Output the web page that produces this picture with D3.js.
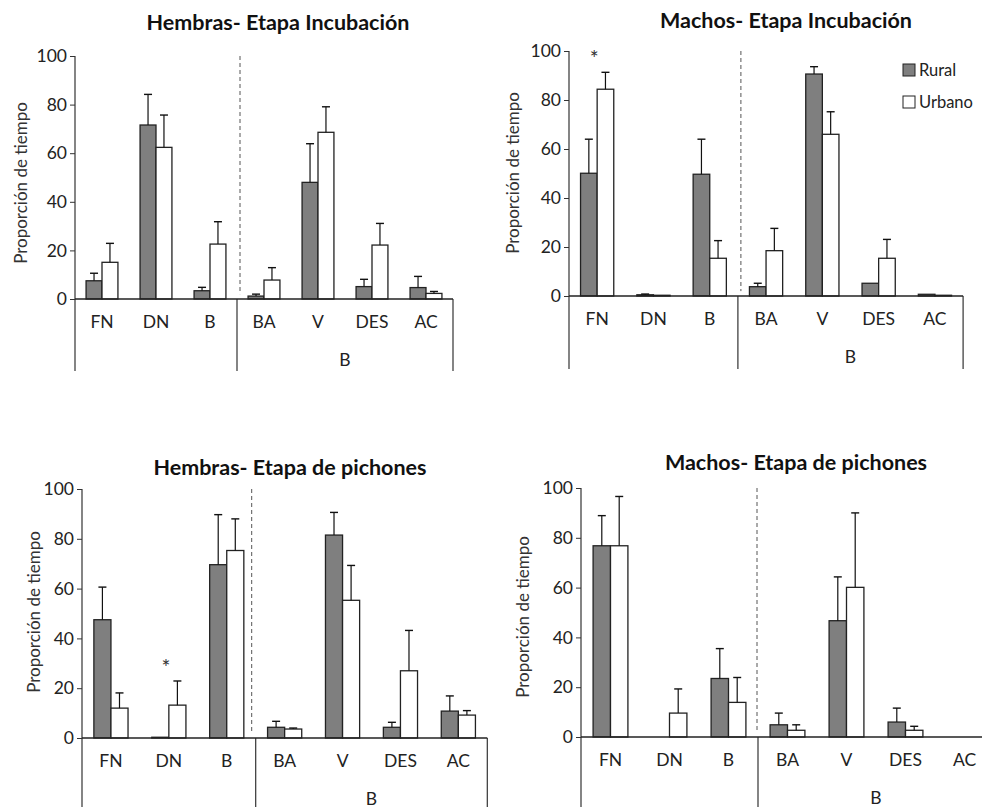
<!DOCTYPE html>
<html>
<head>
<meta charset="utf-8">
<script src="https://cdn.jsdelivr.net/npm/d3@7"></script>
<style>
  html, body { margin: 0; padding: 0; background: #fff; }
  svg { display: block; }
  text { font-family: Lato, "Open Sans", sans-serif; fill: #222; }
</style>
</head>
<body>
<svg id="chart" width="982" height="807"></svg>
<script>
// Behaviour categories: nest-related (FN, DN, B) and the B subdivisions
const categories = ["FN", "DN", "B", "BA", "V", "DES", "AC"];
const groups = ["Rural", "Urbano"];
const yTicks = [0, 20, 40, 60, 80, 100];
const groupLabel = "B";
const yLabel = "Proporción de tiempo";

// Hembras - Etapa Incubación
const hembrasIncRural    = [7.5, 71.6, 3.4, 1.2, 48.0, 5.1, 4.7];
const hembrasIncRuralErr = [3.1, 12.6, 1.4, 0.8, 15.9, 3.0, 4.6];
const hembrasIncUrb      = [15.1, 62.4, 22.6, 7.8, 68.6, 22.2, 2.3];
const hembrasIncUrbErr   = [7.8, 13.3, 9.2, 5.1, 10.5, 8.9, 0.8];

// Machos - Etapa Incubación
const machosIncRural    = [50.1, 0.5, 49.7, 3.8, 90.6, 5.2, 0.7];
const machosIncRuralErr = [13.9, 0.3, 14.3, 1.4, 3.0, 0, 0];
const machosIncUrb      = [84.4, 0.3, 15.4, 18.5, 66.0, 15.4, 0.3];
const machosIncUrbErr   = [6.9, 0, 7.2, 9.1, 9.2, 7.7, 0];

// Hembras - Etapa de pichones
const hembrasPichRural    = [47.5, 0.3, 69.6, 4.3, 81.5, 4.3, 10.8];
const hembrasPichRuralErr = [13.1, 0, 20.1, 2.4, 9.1, 2.0, 6.1];
const hembrasPichUrb      = [12.0, 13.2, 75.3, 3.6, 55.3, 27.0, 9.2];
const hembrasPichUrbErr   = [6.1, 9.7, 12.7, 0.4, 14.0, 16.2, 1.8];

// Machos - Etapa de pichones
const machosPichRural    = [76.8, 0, 23.5, 4.9, 46.7, 6.0, 0];
const machosPichRuralErr = [12.1, 0, 12.0, 4.7, 17.6, 5.6, 0];
const machosPichUrb      = [76.8, 9.6, 13.9, 2.7, 60.1, 2.7, 0];
const machosPichUrbErr   = [19.8, 9.7, 10.0, 2.2, 29.9, 1.6, 0];

// Categories marked as significantly different
const hembrasIncSig = [];
const machosIncSig = ["FN"];
const hembrasPichSig = ["DN"];
const machosPichSig = [];

const panels = [
  { title: "Hembras- Etapa Incubación", rural: hembrasIncRural, ruralErr: hembrasIncRuralErr,
    urb: hembrasIncUrb, urbErr: hembrasIncUrbErr, sig: hembrasIncSig,
    x0: 75, step: 54, yTop: 56, yZero: 299, bottom: 371, titleX: 278, titleY: 22,
    labelX: 20, labelY: 183, dashDx: 3, legend: false },
  { title: "Machos- Etapa Incubación", rural: machosIncRural, ruralErr: machosIncRuralErr,
    urb: machosIncUrb, urbErr: machosIncUrbErr, sig: machosIncSig,
    x0: 569, step: 56.3, yTop: 51, yZero: 296, bottom: 369, titleX: 786, titleY: 20,
    labelX: 512, labelY: 173, dashDx: 3, legend: true },
  { title: "Hembras- Etapa de pichones", rural: hembrasPichRural, ruralErr: hembrasPichRuralErr,
    urb: hembrasPichUrb, urbErr: hembrasPichUrbErr, sig: hembrasPichSig,
    x0: 82, step: 57.9, yTop: 489, yZero: 738, bottom: 807, titleX: 290, titleY: 467,
    labelX: 33, labelY: 612, dashDx: -4, legend: false },
  { title: "Machos- Etapa de pichones", rural: machosPichRural, ruralErr: machosPichRuralErr,
    urb: machosPichUrb, urbErr: machosPichUrbErr, sig: machosPichSig,
    x0: 581, step: 59, yTop: 488, yZero: 737, bottom: 807, titleX: 796, titleY: 462,
    labelX: 522, labelY: 617, dashDx: -1, legend: false }
];

const svg = d3.select("#chart");
const ruralFill = "#7f7f7f";
const urbFill = "#ffffff";
const colour = d3.scaleOrdinal().domain(groups).range([ruralFill, urbFill]);

panels.forEach(p => {
  const g = svg.append("g");
  const xEnd = p.x0 + p.step * categories.length;

  const x = d3.scaleBand().domain(categories).range([p.x0, xEnd])
    .paddingInner(0.41).paddingOuter(0.205);
  const xs = d3.scaleBand().domain(groups).range([0, x.bandwidth()]);
  const y = d3.scaleLinear().domain([0, 100]).range([p.yZero, p.yTop]);

  // Title
  g.append("text")
    .attr("x", p.titleX).attr("y", p.titleY)
    .attr("text-anchor", "middle").attr("dominant-baseline", "central")
    .style("font-weight", "bold").style("font-size", "21.5px").style("fill", "#111")
    .text(p.title);

  // Y axis ticks and labels
  const yAxis = d3.axisLeft(y).tickValues(yTicks).tickSize(5).tickPadding(3);
  const ya = g.append("g").attr("transform", `translate(${p.x0},0)`).call(yAxis);
  ya.select(".domain").remove();
  ya.selectAll(".tick line").attr("stroke", "#333");
  ya.selectAll(".tick text").style("font-size", "17.5px").style("font-family", "Lato, sans-serif")
    .attr("fill", "#333");

  // Axis lines: vertical axis, group divider, right end and baseline
  const sepX = p.x0 + p.step * 3;
  g.append("line").attr("x1", p.x0).attr("x2", p.x0).attr("y1", y(100)).attr("y2", p.bottom)
    .attr("stroke", "#333").attr("stroke-width", 1.2);
  g.append("line").attr("x1", sepX).attr("x2", sepX).attr("y1", p.yZero).attr("y2", p.bottom)
    .attr("stroke", "#333").attr("stroke-width", 1.2);
  g.append("line").attr("x1", xEnd).attr("x2", xEnd).attr("y1", p.yZero).attr("y2", p.bottom)
    .attr("stroke", "#333").attr("stroke-width", 1.2);

  // Dashed separator between nest categories and B subdivisions
  g.append("line").attr("x1", sepX + p.dashDx).attr("x2", sepX + p.dashDx)
    .attr("y1", y(100)).attr("y2", y(2))
    .attr("stroke", "#555").attr("stroke-width", 1).attr("stroke-dasharray", "4,3");

  // Bars
  const rows = categories.map((c, i) => ({
    cat: c,
    vals: [
      { grp: "Rural", v: p.rural[i], e: p.ruralErr[i] },
      { grp: "Urbano", v: p.urb[i], e: p.urbErr[i] }
    ]
  }));

  const cg = g.selectAll(".cat").data(rows).join("g")
    .attr("transform", d => `translate(${x(d.cat)},0)`);

  const items = cg.selectAll(".item").data(d => d.vals.filter(v => v.v > 0)).join("g");

  items.append("rect")
    .attr("x", d => xs(d.grp))
    .attr("width", xs.bandwidth())
    .attr("y", d => y(d.v))
    .attr("height", d => y(0) - y(d.v))
    .attr("fill", d => colour(d.grp))
    .attr("stroke", "#222").attr("stroke-width", 1.3);

  // Error bars (upper only)
  const errs = items.filter(d => d.e > 0);
  errs.append("line")
    .attr("x1", d => xs(d.grp) + xs.bandwidth() / 2)
    .attr("x2", d => xs(d.grp) + xs.bandwidth() / 2)
    .attr("y1", d => y(d.v)).attr("y2", d => y(d.v + d.e))
    .attr("stroke", "#111").attr("stroke-width", 1.2);
  errs.append("line")
    .attr("x1", d => xs(d.grp) + xs.bandwidth() / 2 - 4)
    .attr("x2", d => xs(d.grp) + xs.bandwidth() / 2 + 4)
    .attr("y1", d => y(d.v + d.e)).attr("y2", d => y(d.v + d.e))
    .attr("stroke", "#111").attr("stroke-width", 1.4);

  // Baseline
  g.append("line").attr("x1", p.x0).attr("x2", xEnd).attr("y1", y(0)).attr("y2", y(0))
    .attr("stroke", "#222").attr("stroke-width", 1.3);

  // Category labels
  const xAxis = d3.axisBottom(x).tickSize(0).tickPadding(17);
  const xa = g.append("g").attr("transform", `translate(0,${p.yZero})`).call(xAxis);
  xa.select(".domain").remove();
  xa.selectAll(".tick text").style("font-size", "17.5px").style("font-family", "Lato, sans-serif")
    .attr("fill", "#222");

  // Group label under the B subdivisions
  g.append("text")
    .attr("x", (sepX + xEnd) / 2).attr("y", p.yZero + 60)
    .attr("text-anchor", "middle").attr("dominant-baseline", "central")
    .style("font-size", "17.5px").text(groupLabel);

  // Significance marks
  p.sig.forEach(c => {
    const i = categories.indexOf(c);
    const top = Math.max(p.rural[i] + p.ruralErr[i], p.urb[i] + p.urbErr[i]);
    g.append("text")
      .attr("x", x(c) + x.bandwidth() / 2 - 3).attr("y", y(top + 6))
      .attr("text-anchor", "middle").attr("dominant-baseline", "central")
      .style("font-size", "21px").style("fill", "#333").text("*");
  });

  // Y axis title
  g.append("text")
    .attr("transform", `translate(${p.labelX},${p.labelY}) rotate(-90)`)
    .attr("text-anchor", "middle").attr("dominant-baseline", "central")
    .style("font-size", "17px").style("fill", "#333").text(yLabel);

  // Legend
  if (p.legend) {
    const lg = g.append("g").attr("transform", "translate(903,62)");
    groups.forEach((k, i) => {
      lg.append("rect").attr("x", 0).attr("y", i * 32 + 2).attr("width", 12).attr("height", 12)
        .attr("fill", colour(k)).attr("stroke", "#222").attr("stroke-width", 1);
      lg.append("text").attr("x", 16).attr("y", i * 32 + 8)
        .attr("dominant-baseline", "central").style("font-size", "16.5px").text(k);
    });
  }
});
</script>
</body>
</html>
